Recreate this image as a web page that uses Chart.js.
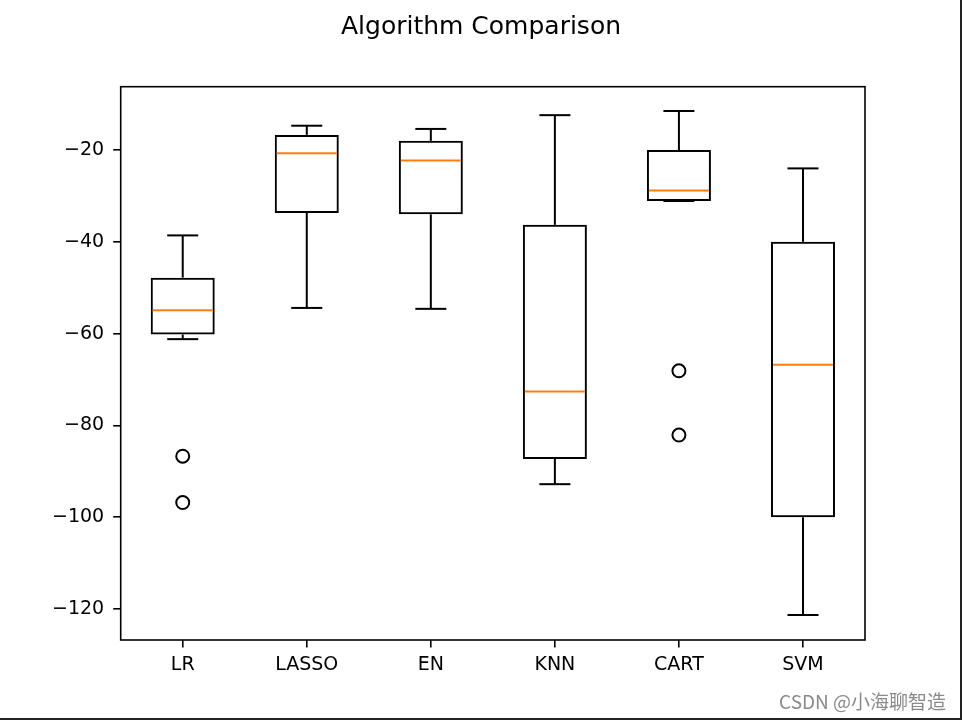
<!DOCTYPE html>
<html>
<head>
<meta charset="utf-8">
<script src="https://cdn.jsdelivr.net/npm/chart.js@4.4.0/dist/chart.umd.min.js"></script>
<style>
  html, body { margin: 0; padding: 0; background: #fff; }
</style>
</head>
<body>
<canvas id="boxChart" width="962" height="720"></canvas>
<script>
// Box plot values
const categories = ['LR', 'LASSO', 'EN', 'KNN', 'CART', 'SVM'];
const whiskerLow = [-61.2, -54.4, -54.6, -92.8, -31.1, -121.3];
const q1 = [-60.2, -33.7, -34.0, -87.3, -31.1, -100.0];
const medians = [-54.9, -20.7, -22.3, -72.6, -28.8, -66.8];
const q3 = [-47.8, -16.7, -18.0, -36.3, -20.0, -40.0];
const whiskerHigh = [-38.6, -14.7, -15.4, -12.4, -11.5, -24.0];

// Fliers
const outlierCats = ['LR', 'LR', 'CART', 'CART'];
const outlierValues = [-86.7, -96.8, -68.1, -82.1];

const yTicks = [-120, -100, -80, -60, -40, -20];

// whiskers, caps, medians, frame and watermark
const boxPlotExtras = {
    id: 'boxPlotExtras',
    afterDatasetsDraw(chart) {
        const ctx = chart.ctx;
        const xs = chart.scales.x;
        const ys = chart.scales.y;
        const step = xs.getPixelForValue(1) - xs.getPixelForValue(0);
        const capHalf = step * 0.125;
        const boxHalf = step * 0.25;

        function seg(x1, y1, x2, y2, color) {
            ctx.beginPath();
            ctx.strokeStyle = color;
            ctx.moveTo(x1, y1);
            ctx.lineTo(x2, y2);
            ctx.stroke();
        }

        ctx.save();
        ctx.lineWidth = 2;
        categories.forEach((c, i) => {
            const cx = xs.getPixelForValue(i);
            const lo = ys.getPixelForValue(whiskerLow[i]);
            const hi = ys.getPixelForValue(whiskerHigh[i]);
            const b = ys.getPixelForValue(q1[i]);
            const t = ys.getPixelForValue(q3[i]);
            seg(cx, b, cx, lo, '#000');
            seg(cx, t, cx, hi, '#000');
            seg(cx - capHalf, lo, cx + capHalf, lo, '#000');
            seg(cx - capHalf, hi, cx + capHalf, hi, '#000');
            const m = ys.getPixelForValue(medians[i]);
            seg(cx - boxHalf + 1, m, cx + boxHalf - 1, m, '#ff7f0e');
        });
        ctx.restore();
    },
    afterDraw(chart) {
        const ctx = chart.ctx;
        const a = chart.chartArea;
        ctx.save();
        // axes frame
        ctx.strokeStyle = '#000';
        ctx.lineWidth = 1.6;
        ctx.strokeRect(a.left, a.top, a.right - a.left, a.bottom - a.top);

        // watermark
        ctx.fillStyle = '#8a8a8a';
        ctx.font = '19px "Noto Sans CJK SC", "Noto Sans", sans-serif';
        ctx.textAlign = 'right';
        ctx.textBaseline = 'alphabetic';
        ctx.fillText('CSDN @小海聊智造', 946, 709);

        // screenshot edge
        ctx.fillStyle = '#222';
        ctx.fillRect(960, 0, 2, 720);
        ctx.fillRect(0, 718, 962, 2);
        ctx.restore();
    }
};

function createBoxChart() {
    const ctx = document.getElementById('boxChart').getContext('2d');

    new Chart(ctx, {
        type: 'bar',
        data: {
            labels: categories,
            datasets: [
                {
                    label: 'IQR',
                    data: categories.map((c, i) => [q1[i], q3[i]]),
                    backgroundColor: 'rgba(0, 0, 0, 0)',
                    borderColor: '#000',
                    borderWidth: 2,
                    borderSkipped: false,
                    barPercentage: 0.516,
                    categoryPercentage: 1.0
                },
                {
                    type: 'line',
                    label: 'Outliers',
                    data: outlierCats.map((c, i) => ({ x: c, y: outlierValues[i] })),
                    showLine: false,
                    pointStyle: 'circle',
                    pointRadius: 6.5,
                    pointBorderWidth: 2,
                    pointBorderColor: '#000',
                    pointBackgroundColor: 'rgba(0, 0, 0, 0)'
                }
            ]
        },
        options: {
            responsive: false,
            animation: false,
            layout: {
                padding: { left: 0, right: 0, top: 0, bottom: 0 }
            },
            plugins: {
                legend: { display: false },
                tooltip: { enabled: false },
                title: {
                    display: true,
                    text: 'Algorithm Comparison',
                    color: '#000',
                    font: { family: 'DejaVu Sans', size: 25, weight: 'normal' },
                    padding: { top: 12, bottom: 44.7 }
                }
            },
            scales: {
                x: {
                    type: 'category',
                    offset: true,
                    grid: {
                        offset: false,
                        drawOnChartArea: false,
                        drawTicks: true,
                        tickLength: 7.5,
                        color: '#000',
                        lineWidth: 1.6
                    },
                    border: { display: false },
                    ticks: {
                        color: '#000',
                        padding: 6,
                        font: { family: 'DejaVu Sans', size: 19 }
                    },
                    afterFit: function(scale) {
                        scale.height = 80;
                    }
                },
                y: {
                    min: -126.75,
                    max: -6.2,
                    grid: {
                        drawOnChartArea: false,
                        drawTicks: true,
                        tickLength: 7.5,
                        color: '#000',
                        lineWidth: 1.6
                    },
                    border: { display: false },
                    ticks: {
                        color: '#000',
                        padding: 9,
                        font: { family: 'DejaVu Sans', size: 19 },
                        callback: function(value) {
                            return value < 0 ? '\u2212' + Math.abs(value) : String(value);
                        }
                    },
                    afterBuildTicks: function(scale) {
                        scale.ticks = yTicks.map(v => ({ value: v }));
                    },
                    afterFit: function(scale) {
                        scale.width = 120.7;
                    }
                },
                // empty right-hand margin so the title stays centred on the figure
                yRight: {
                    position: 'right',
                    min: -126.75,
                    max: -6.2,
                    grid: { display: false },
                    border: { display: false },
                    ticks: { display: false },
                    afterFit: function(scale) {
                        scale.width = 97;
                    }
                }
            }
        },
        plugins: [boxPlotExtras]
    });
}

createBoxChart();
</script>
</body>
</html>
